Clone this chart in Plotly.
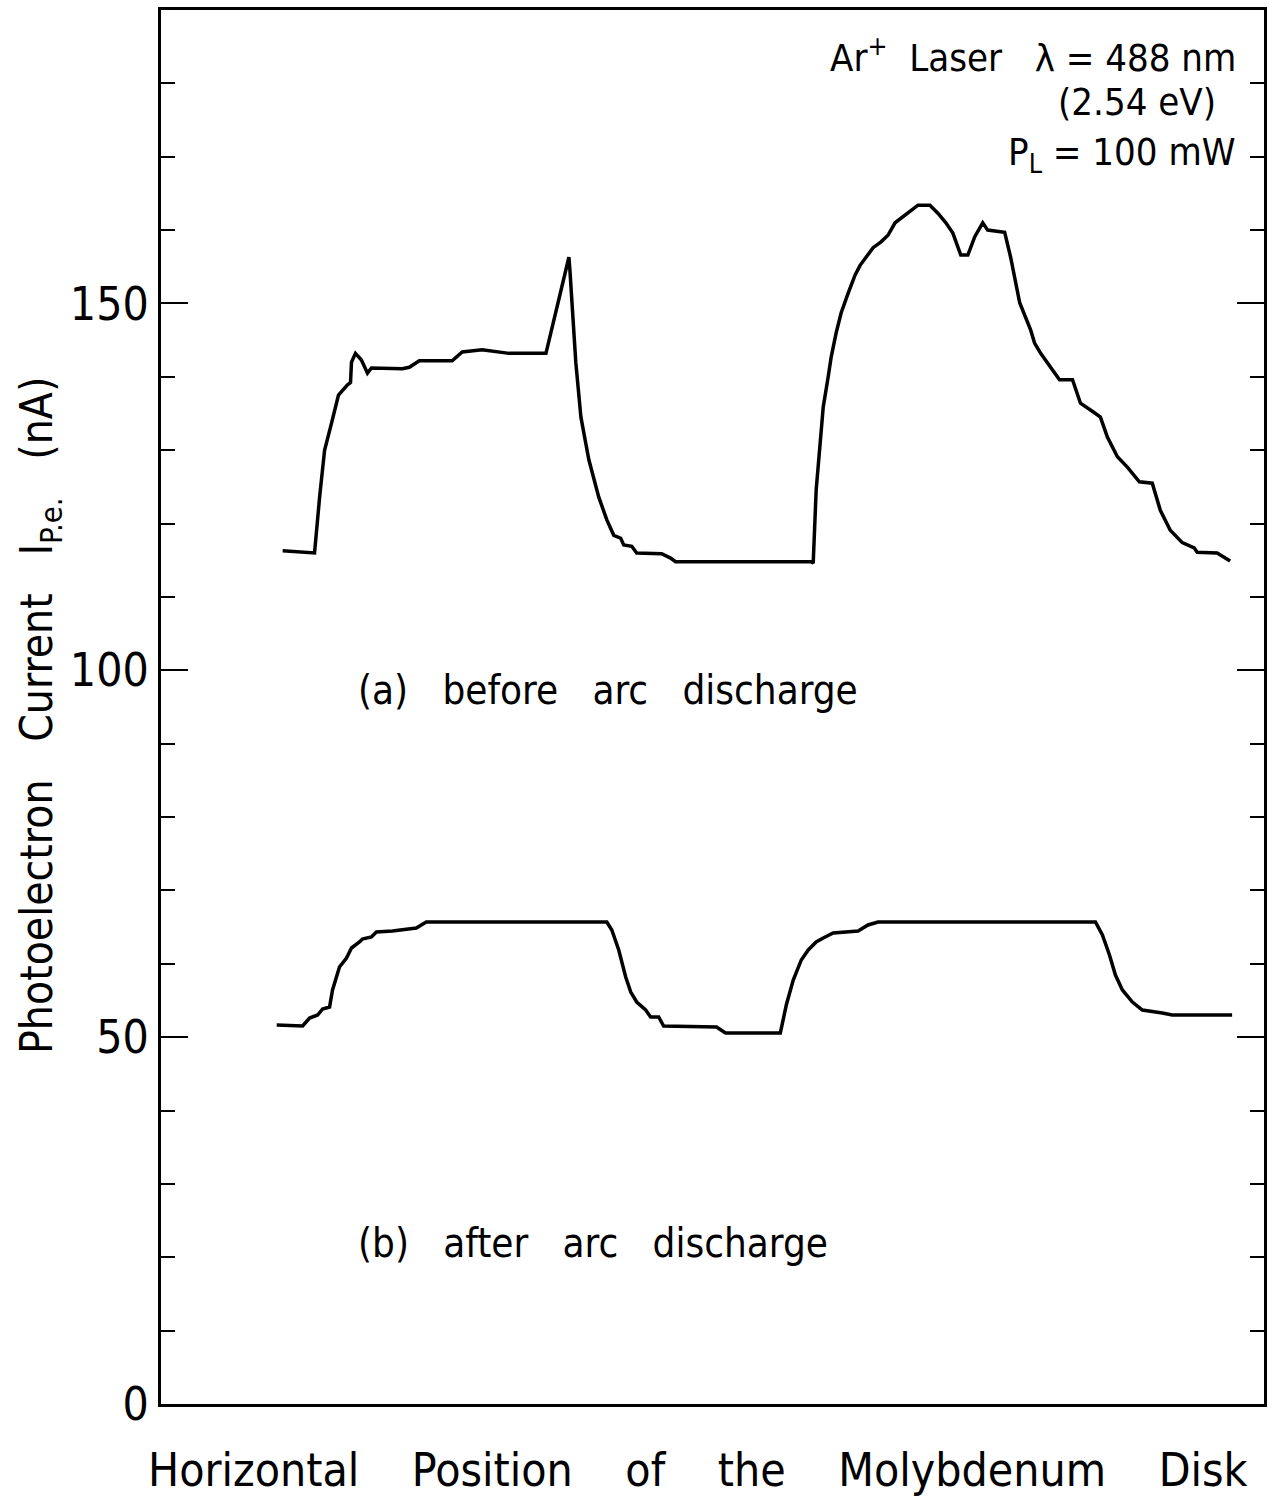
import plotly.graph_objects as go

# Horizontal position (arbitrary units, 0-100 across the frame)
pos_a = [11.03, 13.92, 14.38, 14.83, 15.46, 16.09, 16.91, 17.18, 17.27, 17.63, 18.17, 18.72, 19.08,
         21.88, 22.51, 23.42, 26.40, 27.31, 29.11, 31.56, 34.90, 36.71, 36.98, 37.07, 37.25, 37.61,
         38.07, 38.79, 39.69, 40.42, 41.05, 41.68, 41.95, 42.68, 43.13, 45.39, 46.20, 46.65, 58.95,
         59.13, 59.40, 59.76, 60.04, 60.49, 60.76, 61.21, 61.66, 62.30, 62.93, 63.38, 64.10, 64.56,
         65.28, 65.91, 66.55, 67.72, 68.63, 69.71,
         70.43, 71.16, 71.79, 72.51, 73.15, 73.78, 74.50, 74.95, 76.49, 77.03, 77.85, 78.84, 79.20,
         79.75, 80.65, 81.46, 82.64, 83.36, 84.63, 85.17, 85.80, 86.71, 87.61, 88.70, 89.87, 90.60,
         91.50, 92.59, 93.67, 93.94, 95.75, 96.93]
cur_a = [116.3, 116.0, 123.6, 130.0, 133.7, 137.5, 138.9, 139.2, 142.0, 143.2, 142.3, 140.5, 141.2,
         141.1, 141.3, 142.2, 142.2, 143.4, 143.7, 143.2, 143.2, 155.0, 156.3, 154.6, 150.9, 141.9,
         134.5, 128.7, 123.6, 120.5, 118.4, 118.0, 117.1, 116.9, 116.0, 115.9, 115.3, 114.8, 114.8,
         114.6, 124.6, 131.0, 135.9, 140.0, 142.7, 146.0, 148.7, 151.4, 153.9, 155.2, 156.6, 157.6,
         158.4, 159.3, 161.0, 162.3, 163.4, 163.4,
         162.3, 161.0, 159.6, 156.6, 156.6, 159.1, 161.0, 160.0, 159.7, 156.3, 150.1, 146.4, 144.6,
         143.2, 141.3, 139.6, 139.6, 136.4, 135.1, 134.5, 131.8, 129.1, 127.7, 125.7, 125.5, 121.8,
         119.1, 117.4, 116.7, 116.1, 116.0, 114.9]

pos_b = [10.49, 12.84, 13.47, 14.20, 14.65, 15.28, 15.55, 16.18, 16.82, 17.27, 17.99, 18.26, 19.08,
         19.53, 20.98, 23.15, 23.60, 24.05, 40.42, 40.87, 41.50, 42.13, 42.59, 43.13, 43.94, 44.39,
         45.12, 45.57, 50.36, 51.18, 56.15, 56.69, 57.32, 58.05, 58.68, 59.40, 60.04, 60.94, 63.20,
         64.10, 65.01, 84.72, 85.35, 85.99, 86.53, 87.16, 88.07, 88.97, 90.78, 91.68, 97.11]
cur_b = [51.66, 51.52, 52.61, 53.02, 53.84, 54.11, 56.43, 59.56, 60.79, 62.15, 62.97, 63.38, 63.65,
         64.33, 64.47, 64.88, 65.29, 65.70, 65.70, 64.60, 61.88, 58.20, 56.15, 54.79, 53.70, 52.75,
         52.75, 51.52, 51.38, 50.57, 50.57, 54.38, 57.79, 60.52, 61.88, 62.97, 63.51, 64.20, 64.47,
         65.29, 65.70, 65.70, 63.92, 61.20, 58.47, 56.43, 54.79, 53.70, 53.29, 53.02, 53.02]

y_ticks = [0, 50, 100, 150]
y_tick_labels = ["0", "50", "100", "150"]

FONT = "DejaVu Sans Condensed, Liberation Sans Narrow, DejaVu Sans, sans-serif"
NB = "\u00a0"

fig = go.Figure()
fig.add_trace(go.Scatter(x=pos_a, y=cur_a, mode="lines",
                         line=dict(color="black", width=3.5), showlegend=False))
fig.add_trace(go.Scatter(x=pos_b, y=cur_b, mode="lines",
                         line=dict(color="black", width=3.5), showlegend=False))

fig.update_layout(
    width=1269, height=1501,
    margin=dict(l=161, r=2, t=10, b=97),
    paper_bgcolor="white", plot_bgcolor="white",
    font=dict(family=FONT, color="black"),
    xaxis=dict(range=[0, 100], showgrid=False, zeroline=False, showline=True,
               linecolor="black", linewidth=3, mirror=True, ticks="",
               showticklabels=False),
    yaxis=dict(range=[0, 190], showgrid=False, zeroline=False, showline=True,
               linecolor="black", linewidth=3, mirror="ticks",
               tickmode="array", tickvals=y_ticks, ticktext=y_tick_labels,
               ticks="inside", ticklen=27, tickwidth=2, tickcolor="black",
               tickfont=dict(size=46, family=FONT),
               minor=dict(dtick=10, ticks="inside", ticklen=14, tickwidth=2,
                          tickcolor="black", showgrid=False)),
)

G3 = NB * 3
annotations = [
    dict(text=f"Ar<sup>+</sup>{NB}{NB}Laser{NB}{NB}{NB}λ = 488 nm", x=97.6, y=183.9,
         xanchor="right", yanchor="middle", font=dict(size=38)),
    dict(text="(2.54 eV)", x=95.8, y=177.5,
         xanchor="right", yanchor="middle", font=dict(size=38)),
    dict(text="P<sub>L</sub> = 100 mW", x=97.6, y=170.3,
         xanchor="right", yanchor="middle", font=dict(size=38)),
    dict(text=f"(a){G3}before{G3}arc{G3}discharge", x=17.7, y=97.3,
         xanchor="left", yanchor="middle", font=dict(size=40)),
    dict(text=f"(b){G3}after{G3}arc{G3}discharge", x=17.7, y=21.9,
         xanchor="left", yanchor="middle", font=dict(size=40)),
]
for a in annotations:
    fig.add_annotation(xref="x", yref="y", showarrow=False, **a)

fig.add_annotation(xref="paper", yref="paper", x=-0.11, y=0.494, showarrow=False,
                   textangle=-90, xanchor="center", yanchor="middle",
                   text=f"Photoelectron{G3}Current{G3}I<sub>P.e.</sub>{G3}(nA)",
                   font=dict(size=44))
G4 = NB * 4
fig.add_annotation(xref="paper", yref="paper", x=0.487, y=-0.047, showarrow=False,
                   xanchor="center", yanchor="middle",
                   text=f"Horizontal{G4}Position{G4}of{G4}the{G4}Molybdenum{G4}Disk",
                   font=dict(size=46))

fig.write_html("out.html")
